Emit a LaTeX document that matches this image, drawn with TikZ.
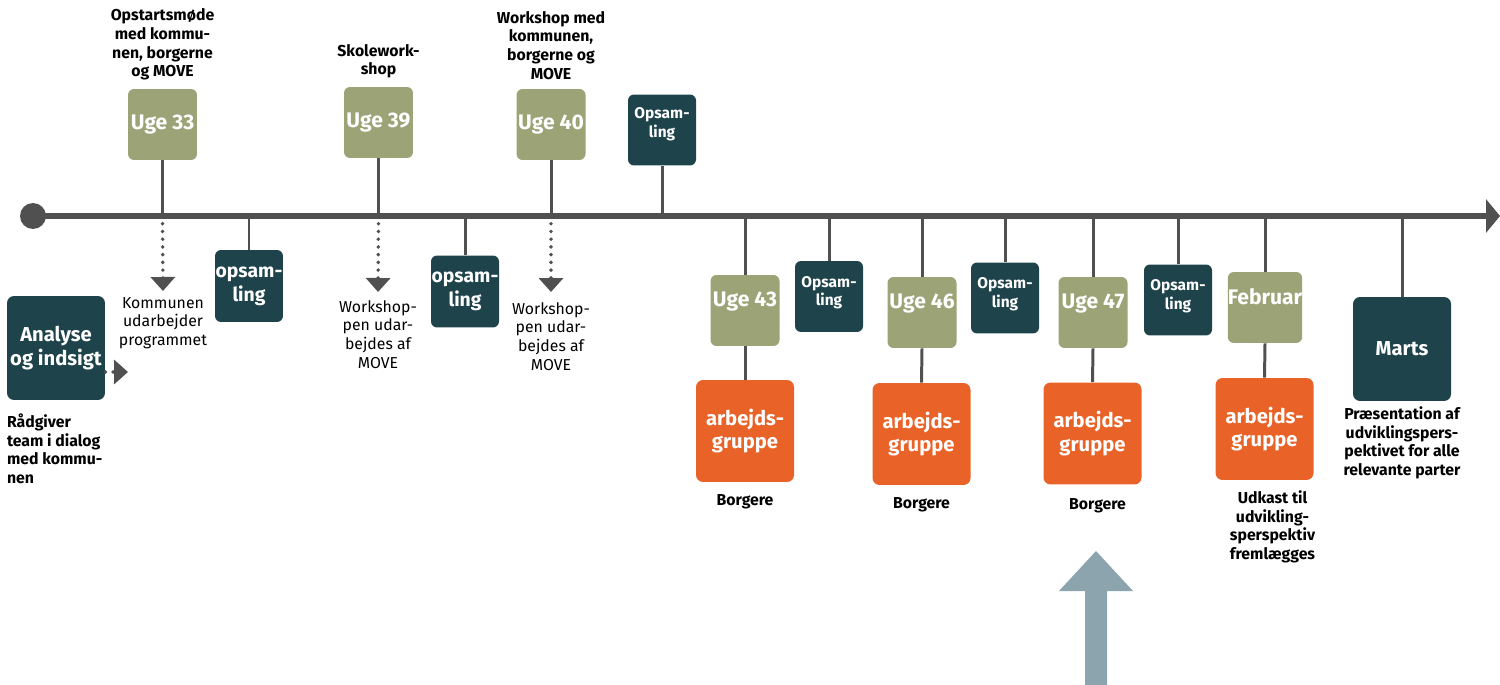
\documentclass[tikz,border=0pt]{standalone}
\usepackage{fontspec}
\setmainfont{Fira Sans}
\usetikzlibrary{positioning, arrows.meta}

\definecolor{ugegreen}{HTML}{9BA377}
\definecolor{opsteal}{HTML}{1E434B}
\definecolor{gruppeorange}{HTML}{E96227}
\definecolor{axisgray}{HTML}{505050}
\definecolor{pilblue}{HTML}{8BA4AD}

\tikzset{
  ugebox/.style={fill=ugegreen, rounded corners=0.12cm, minimum width=1.38cm, minimum height=1.42cm,
    inner sep=0pt, text=white, font=\fontsize{12}{14}\selectfont\bfseries},
  lowtext/.style={text depth=0.45cm},
  opssmall/.style={fill=opsteal, rounded corners=0.12cm, minimum width=1.36cm, minimum height=1.42cm,
    inner sep=0pt, text=white, align=center, font=\fontsize{8.8}{10.5}\selectfont\bfseries},
  opsbig/.style={fill=opsteal, rounded corners=0.12cm, minimum width=1.36cm, minimum height=1.44cm,
    inner sep=0pt, text=white, align=center, font=\fontsize{11}{13.5}\selectfont\bfseries},
  bigbox/.style={fill=opsteal, rounded corners=0.14cm, minimum width=1.96cm, minimum height=2.08cm,
    inner sep=0pt, text=white, align=center, font=\fontsize{11.5}{13.6}\selectfont\bfseries},
  gruppebox/.style={fill=gruppeorange, rounded corners=0.14cm, minimum width=1.96cm, minimum height=2.04cm,
    inner sep=0pt, text=white, align=center, font=\fontsize{11.5}{13.2}\selectfont\bfseries},
  captext/.style={inner sep=0pt, align=center, font=\fontsize{9}{10.6}\selectfont},
  captextb/.style={captext, font=\fontsize{9}{10.6}\selectfont\bfseries},
  stem/.style={axisgray, line width=1.7pt},
  axis/.style={axisgray, line width=3.4pt, -{Triangle[length=0.28cm, width=0.66cm]}},
  dotarrow/.style={axisgray, line width=2.2pt, line cap=round, dash pattern=on 0pt off 4.4pt,
    -{Triangle[length=0.28cm, width=0.48cm]}},
}

\begin{document}
\begin{tikzpicture}[x=0.02cm, y=-0.02cm]
  \useasboundingbox (0,0) rectangle (1500,685);

  % タイムライン
  \coordinate (start) at (33,216);
  \coordinate (end) at (1500,216);

  % 上のボックス
  \node[ugebox] (u33) at (162.5,124.5) {Uge 33};
  \node[ugebox] (u39) at (378.5,122.5) {Uge 39};
  \node[ugebox] (u40) at (551,124.5) {Uge 40};
  \node[opssmall, text depth=0.3cm] (ops40) at (662,130) {Opsam-\\ling};

  \node[captextb, above=0.16cm of u33] (t33) {Opstartsmøde\\med kommu-\\nen, borgerne\\og MOVE};
  \node[captextb, above=0.16cm of u39] (t39) {Skolework-\\shop};
  \node[captextb, above=0.18cm of u40] (t40) {Workshop med\\kommunen,\\borgerne og\\MOVE};

  % 下のボックス
  \node[bigbox] (analyse) at (56,348) {Analyse\\og indsigt};
  \node[opsbig] (ops33) at (249,286) {opsam-\\ling};
  \node[opsbig] (ops39) at (465,291.5) {opsam-\\ling};

  \node[ugebox, lowtext] (u43) at (745,310.5) {Uge 43};
  \node[gruppebox] (ag43) at (745,431) {arbejds-\\gruppe};
  \node[opssmall, text depth=0.22cm] (ops43) at (829,296.5) {Opsam-\\ling};
  \node[ugebox, lowtext] (u46) at (922,312.5) {Uge 46};
  \node[gruppebox] (ag46) at (921.5,434) {arbejds-\\gruppe};
  \node[opssmall, text depth=0.22cm] (ops46) at (1005,298) {Opsam-\\ling};
  \node[ugebox, lowtext] (u47) at (1093,312.5) {Uge 47};
  \node[gruppebox] (ag47) at (1092.5,433.5) {arbejds-\\gruppe};
  \node[opssmall, text depth=0.22cm] (ops47) at (1178,300) {Opsam-\\ling};
  \node[ugebox, lowtext] (ufeb) at (1265,307.5) {Februar};
  \node[gruppebox] (agfeb) at (1264.5,429) {arbejds-\\gruppe};
  \node[bigbox] (marts) at (1402,349) {Marts};

  % 説明
  \node[captext, anchor=north] (komm) at (163,297) {Kommunen\\udarbejder\\programmet};
  \node[captext, anchor=north] (ws39) at (378,300) {Workshop-\\pen udar-\\bejdes af\\MOVE};
  \node[captext, anchor=north] (ws40) at (551,302) {Workshop-\\pen udar-\\bejdes af\\MOVE};
  \node[captextb, align=left, anchor=north west] (raad) at ([yshift=-0.26cm]analyse.south west)
    {Rådgiver\\team i dialog\\med kommu-\\nen};
  \node[captextb, below=0.24cm of ag43] (b43) {Borgere};
  \node[captextb, below=0.24cm of ag46] (b46) {Borgere};
  \node[captextb, below=0.26cm of ag47, xshift=0.1cm] (b47) {Borgere};
  \node[captextb, below=0.2cm of agfeb, xshift=0.16cm] (udkast) {Udkast til\\udvikling-\\sperspektiv\\fremlægges};
  \node[captextb, below=0.1cm of marts] (praes) {Præsentation af\\udviklingspers-\\pektivet for alle\\relevante parter};

  % 線
  \foreach \n in {u33,u39,u40,ops40}
    \draw[stem] (\n.south) -- (\n.south |- start);
  \foreach \n in {ops33,ops39,u43,ops43,u46,ops46,u47,ops47,ufeb,marts}
    \draw[stem] (\n.north) -- (\n.north |- start);
  \foreach \n in {43,46,47,feb}
    \draw[stem] (u\n.south) -- (ag\n.north);

  \draw[axis] (start) -- (end);
  \fill[axisgray] (start) circle (0.26cm);

  % 点線の矢印
  \draw[dotarrow, shorten >=0.12cm] (u33.south |- start) -- (komm.north);
  \draw[dotarrow, shorten >=0.16cm] (u39.south |- start) -- (ws39.north);
  \draw[dotarrow, shorten >=0.2cm] (u40.south |- start) -- (ws40.north);
  \coordinate (atip) at (128,372);
  \draw[dotarrow] (analyse.east |- atip) -- (atip);

  % 大きい矢印
  \fill[pilblue] (1085,685) -- (1085,591) -- (1059,591) -- (1096,551) -- (1133,591)
    -- (1107,591) -- (1107,685) -- cycle;
\end{tikzpicture}
\end{document}
